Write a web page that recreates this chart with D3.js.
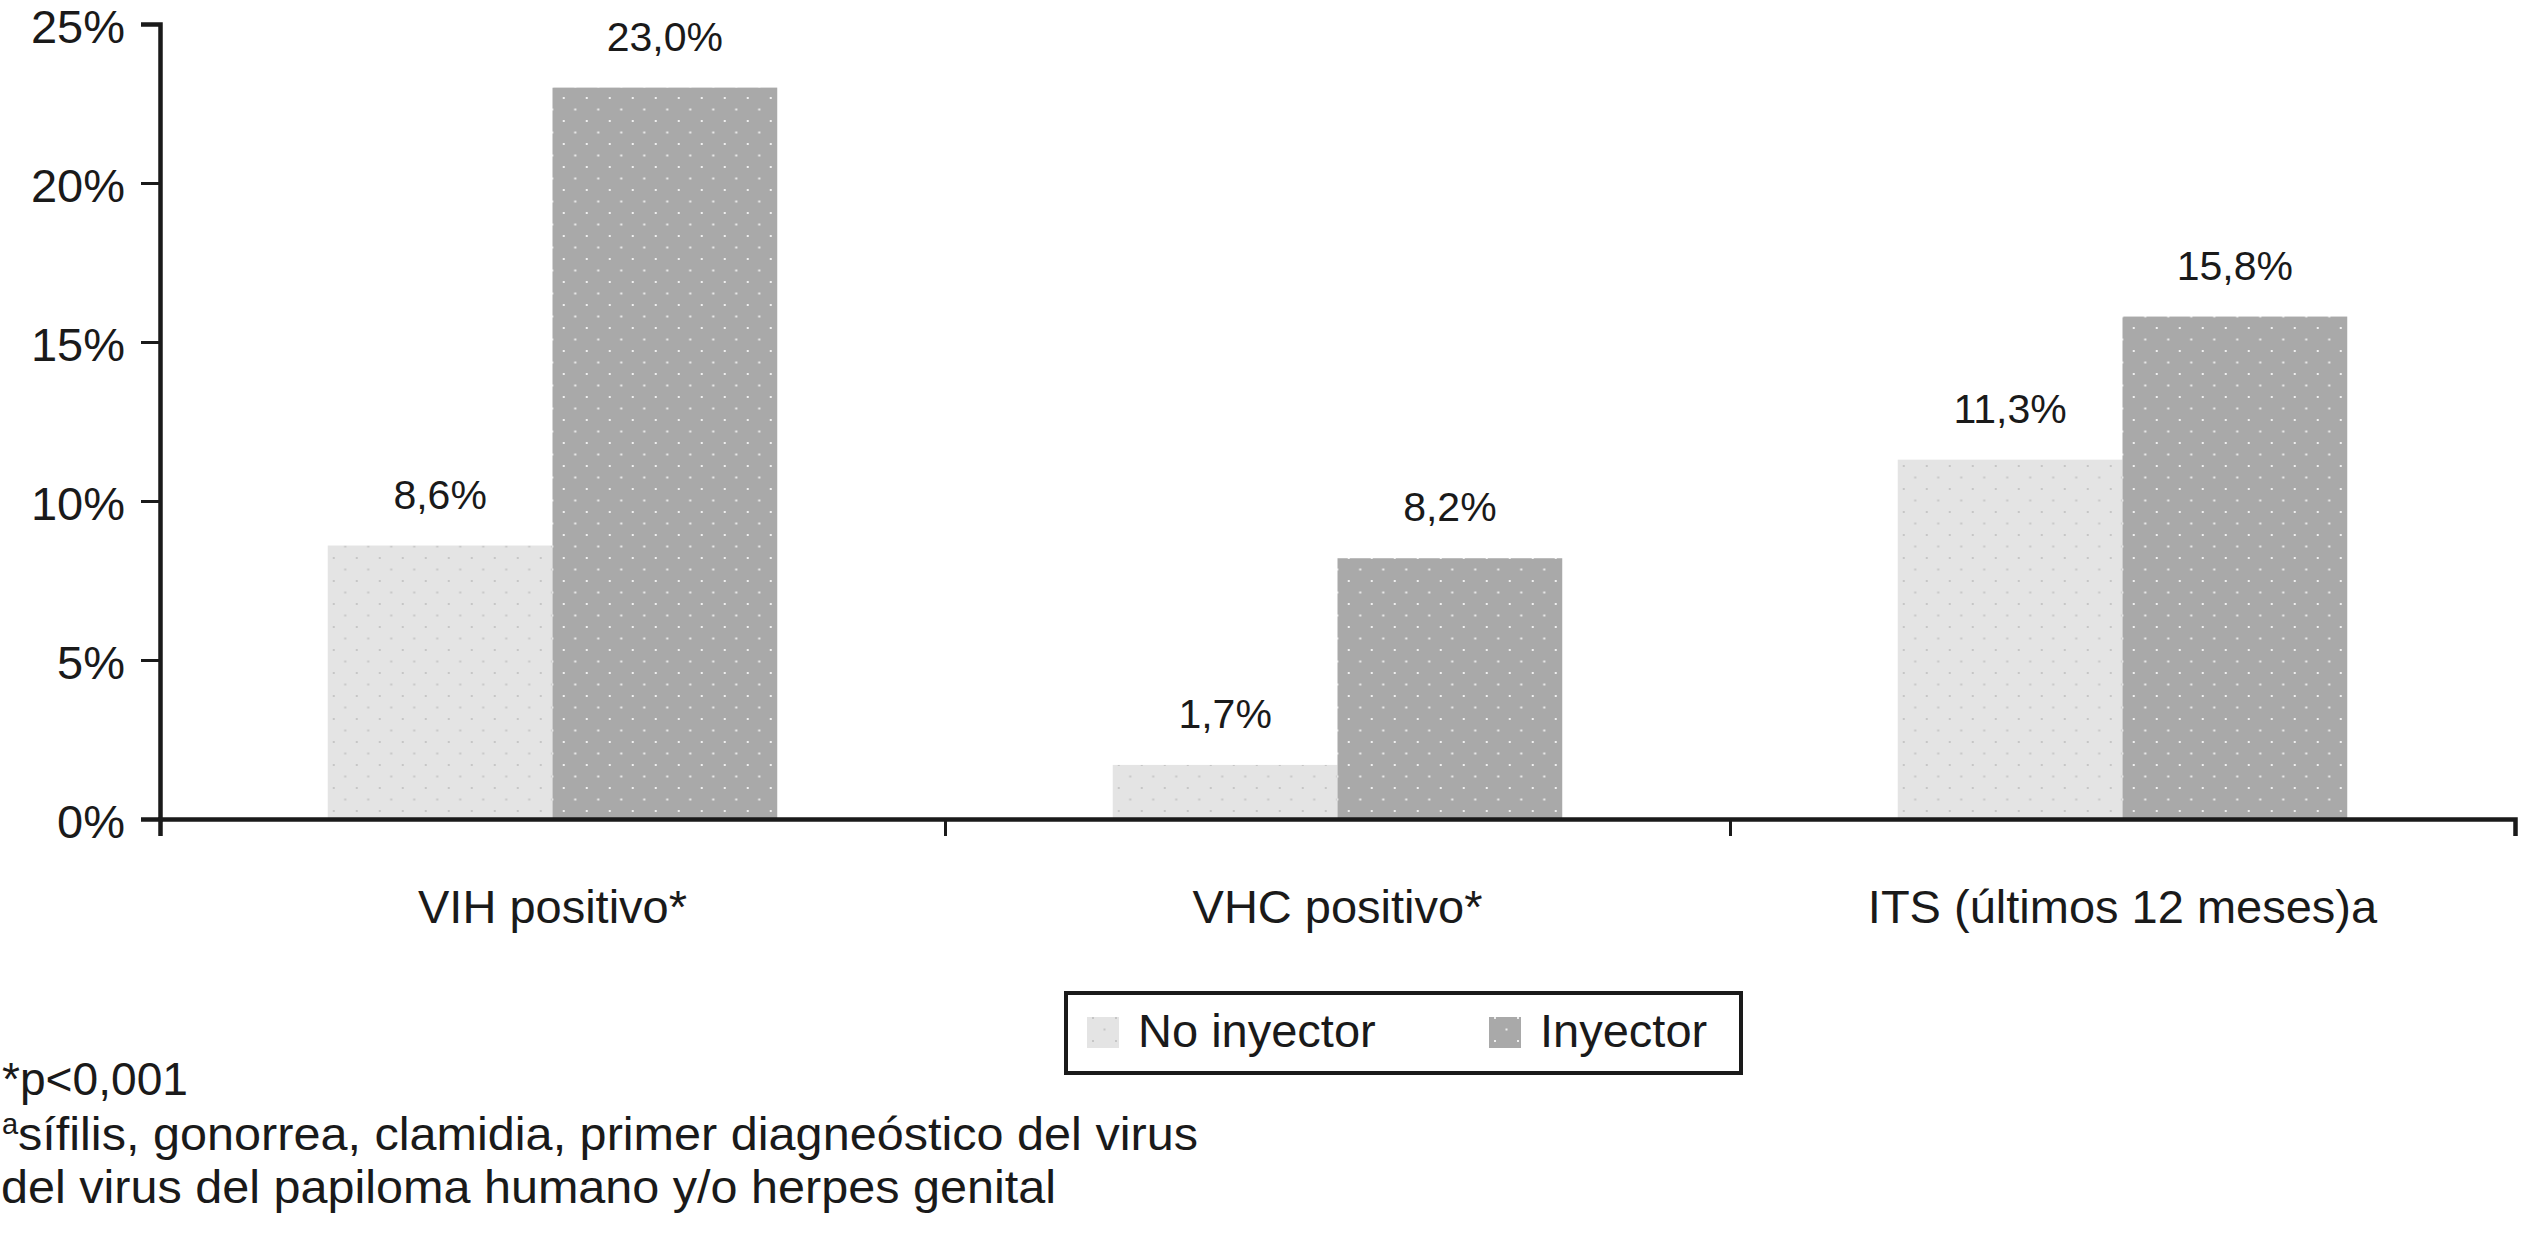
<!DOCTYPE html>
<html>
<head>
<meta charset="utf-8">
<script src="https://cdn.jsdelivr.net/npm/d3@7"></script>
<style>
  html, body { margin: 0; padding: 0; background: #fff; }
  svg { display: block; }
  text { font-family: "Liberation Sans", Arial, Helvetica, sans-serif; fill: #1a1a1a; }
</style>
</head>
<body>
<script>
// ---- data ----
const categories = ["VIH positivo*", "VHC positivo*", "ITS (últimos 12 meses)a"];
const seriesNames = ["No inyector", "Inyector"];
const noInyector = [8.6, 1.7, 11.3];
const inyector = [23.0, 8.2, 15.8];
const yTickValues = [0, 5, 10, 15, 20, 25];
const footnoteLine1 = "*p<0,001";
const footnoteSup = "a";
const footnoteLine2 = "sífilis, gonorrea, clamidia, primer diagneóstico del virus";
const footnoteLine3 = "del virus del papiloma humano y/o herpes genital";

// ---- layout ----
const W = 2521, H = 1236;
const plotLeft = 160, plotRight = 2515, plotTop = 24, plotBottom = 819;
const ink = "#1a1a1a";

const svg = d3.select("body").append("svg").attr("width", W).attr("height", H);

// patterns
const defs = svg.append("defs");
function makePattern(id, bg, dot) {
  const p = defs.append("pattern").attr("id", id)
    .attr("patternUnits", "userSpaceOnUse").attr("width", 23).attr("height", 23);
  p.append("rect").attr("width", 23).attr("height", 23).attr("fill", bg);
  p.append("rect").attr("x", 5).attr("y", 5).attr("width", 2).attr("height", 2).attr("fill", dot);
  p.append("rect").attr("x", 16.5).attr("y", 16.5).attr("width", 2).attr("height", 2).attr("fill", dot);
}
makePattern("pLight", "#e4e4e4", "#c6c6c6");
makePattern("pDark", "#a9a9a9", "#efefef");
const fills = { "No inyector": "url(#pLight)", "Inyector": "url(#pDark)" };

// scales
const y = d3.scaleLinear().domain([0, 25]).range([plotBottom, plotTop]);
const x0 = d3.scaleBand().domain(categories).range([plotLeft, plotRight]).padding(0);
const groupW = x0.bandwidth() * 0.5726;
const x1 = d3.scaleBand().domain(seriesNames).range([0, groupW]).padding(0);
const xb = d3.scaleLinear().domain([0, categories.length]).range([plotLeft, plotRight]);

const rows = categories.map((c, i) => ({ cat: c, vals: [
  { s: seriesNames[0], v: noInyector[i] },
  { s: seriesNames[1], v: inyector[i] }
]}));

// bars
const g = svg.append("g");
const groups = g.selectAll("g.grp").data(rows).join("g")
  .attr("transform", d => `translate(${x0(d.cat) + (x0.bandwidth() - groupW) / 2},0)`);
groups.selectAll("rect").data(d => d.vals).join("rect")
  .attr("x", d => x1(d.s))
  .attr("y", d => y(d.v))
  .attr("width", x1.bandwidth())
  .attr("height", d => y(0) - y(d.v))
  .attr("fill", d => fills[d.s]);

// value labels
const fmt = v => d3.format(".1f")(v).replace(".", ",") + "%";
groups.selectAll("text.val").data(d => d.vals).join("text")
  .attr("class", "val")
  .attr("x", d => x1(d.s) + x1.bandwidth() / 2)
  .attr("y", d => y(d.v) - 37)
  .attr("text-anchor", "middle")
  .attr("font-size", 41)
  .text(d => fmt(d.v));

// y axis
const yAxis = svg.append("g").attr("transform", `translate(${plotLeft},0)`)
  .call(d3.axisLeft(y).tickValues(yTickValues).tickSize(19).tickPadding(16)
    .tickFormat(d => d + "%"));
yAxis.select(".domain").attr("stroke", ink).attr("stroke-width", 4.5);
yAxis.selectAll(".tick line").attr("stroke", ink).attr("stroke-width", 3);
yAxis.selectAll(".tick text").attr("font-size", 47).attr("fill", ink)
  .attr("font-family", "'Liberation Sans', Arial, sans-serif")
  .attr("dy", "0.39em");

// x axis (boundary ticks)
const xAxis = svg.append("g").attr("transform", `translate(0,${plotBottom})`)
  .call(d3.axisBottom(xb).ticks(categories.length).tickSize(17).tickFormat(""));
xAxis.select(".domain").attr("stroke", ink).attr("stroke-width", 4.5);
xAxis.selectAll(".tick line").attr("stroke", ink).attr("stroke-width", 3);

// category labels
const xLab = svg.append("g").attr("transform", `translate(0,${plotBottom})`)
  .call(d3.axisBottom(x0).tickSize(0).tickPadding(0));
xLab.select(".domain").remove();
xLab.selectAll(".tick text").attr("font-size", 47).attr("fill", ink)
  .attr("font-family", "'Liberation Sans', Arial, sans-serif")
  .attr("y", 104).attr("dy", 0);

// legend
const leg = svg.append("g");
leg.append("rect").attr("x", 1066).attr("y", 993).attr("width", 675).attr("height", 80)
  .attr("fill", "#fff").attr("stroke", ink).attr("stroke-width", 4);
const legX = d3.scaleOrdinal().domain(seriesNames).range([1087, 1489]);
const items = leg.selectAll("g.item").data(seriesNames).join("g")
  .attr("transform", d => `translate(${legX(d)},0)`);
items.append("rect").attr("x", 0).attr("y", 1017).attr("width", 32).attr("height", 31)
  .attr("fill", d => fills[d]);
items.append("text").attr("x", 51).attr("y", 1047).attr("font-size", 47).text(d => d);

// footnotes
const fn = svg.append("g");
fn.append("text").attr("x", 2).attr("y", 1095).attr("font-size", 46)
  .attr("textLength", 186).attr("lengthAdjust", "spacingAndGlyphs").text(footnoteLine1);
fn.append("text").attr("x", 2).attr("y", 1134).attr("font-size", 29).text(footnoteSup);
fn.append("text").attr("x", 18).attr("y", 1150).attr("font-size", 46)
  .attr("textLength", 1180).attr("lengthAdjust", "spacingAndGlyphs").text(footnoteLine2);
fn.append("text").attr("x", 1).attr("y", 1203).attr("font-size", 46)
  .attr("textLength", 1055).attr("lengthAdjust", "spacingAndGlyphs").text(footnoteLine3);
</script>
</body>
</html>
